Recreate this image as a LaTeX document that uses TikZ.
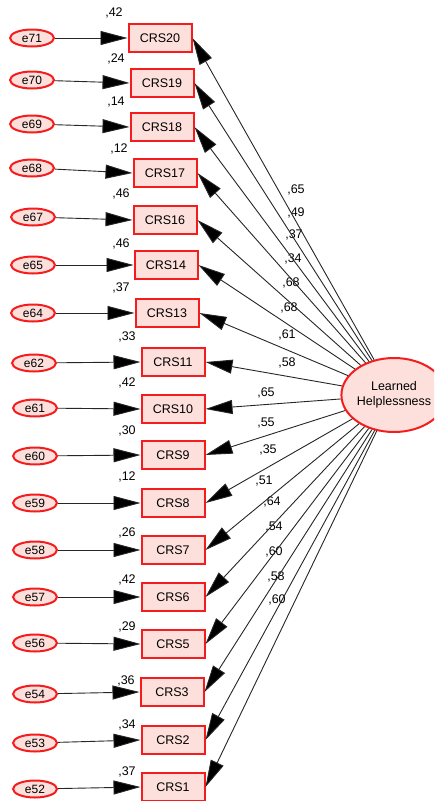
\documentclass[tikz,border=0pt]{standalone}
\usepackage{fontspec}
\setmainfont{Liberation Sans}
\usetikzlibrary{arrows.meta,shapes.geometric}
\definecolor{amosfill}{HTML}{FDE0DC}
\definecolor{amosred}{HTML}{F41C1C}

\begin{document}
\begin{tikzpicture}[x=1pt,y=-1pt,
    err/.style={ellipse,draw=amosred,fill=amosfill,line width=2pt,minimum width=44pt,minimum height=17pt,inner sep=0pt,font=\fontsize{12}{13}\selectfont},
    obs/.style={rectangle,draw=amosred,fill=amosfill,line width=2pt,minimum width=63pt,minimum height=28pt,inner sep=0pt,font=\fontsize{12.5}{13}\selectfont},
    lat/.style={ellipse,draw=amosred,fill=amosfill,line width=2pt,minimum width=96pt,minimum height=74pt,inner sep=0pt,align=center,font=\fontsize{12.5}{14.5}\selectfont},
    lbl/.style={inner sep=0pt,font=\fontsize{12.5}{13}\selectfont},
    arr/.style={-{Triangle[length=27pt,width=14pt]},draw=black!85,line width=0.9pt}]
        \useasboundingbox (0,0) rectangle (434,801);
        \clip (0,0) rectangle (434,801);

        % latent factor
        \node[lat] at (394,395) (lh){Learned\\Helplessness};

        % items
        \node[obs] at (160,38) (c20){CRS20};
        \node[obs] at (162,83) (c19){CRS19};
        \node[obs] at (162,127) (c18){CRS18};
        \node[obs] at (165,173) (c17){CRS17};
        \node[obs] at (165,220) (c16){CRS16};
        \node[obs] at (166,265) (c14){CRS14};
        \node[obs] at (167,313) (c13){CRS13};
        \node[obs] at (173,362) (c11){CRS11};
        \node[obs] at (173,409) (c10){CRS10};
        \node[obs] at (173,455) (c9){CRS9};
        \node[obs] at (173,503) (c8){CRS8};
        \node[obs] at (173,550) (c7){CRS7};
        \node[obs] at (173,597) (c6){CRS6};
        \node[obs] at (173,644) (c5){CRS5};
        \node[obs] at (172,692) (c3){CRS3};
        \node[obs] at (173,740) (c2){CRS2};
        \node[obs] at (173,787) (c1){CRS1};

        % error terms
        \node[err] at (32,38) (e71){e71};
        \node[err] at (32,80) (e70){e70};
        \node[err] at (32,124) (e69){e69};
        \node[err] at (32,168) (e68){e68};
        \node[err] at (33,217) (e67){e67};
        \node[err] at (33,265) (e65){e65};
        \node[err] at (33,313) (e64){e64};
        \node[err] at (34,363) (e62){e62};
        \node[err] at (35,408) (e61){e61};
        \node[err] at (35,456) (e60){e60};
        \node[err] at (35,503) (e59){e59};
        \node[err] at (35,550) (e58){e58};
        \node[err] at (35,597) (e57){e57};
        \node[err] at (35,643) (e56){e56};
        \node[err] at (35,694) (e54){e54};
        \node[err] at (35,743) (e53){e53};
        \node[err] at (35,789) (e52){e52};

        % squared multiple correlations
        \node[lbl] at (114,13) (s20){,42};
        \node[lbl] at (116,59) (s19){,24};
        \node[lbl] at (116,102) (s18){,14};
        \node[lbl] at (119,149) (s17){,12};
        \node[lbl] at (121,194) (s16){,46};
        \node[lbl] at (121,244) (s14){,46};
        \node[lbl] at (121,288) (s13){,37};
        \node[lbl] at (127,337) (s11){,33};
        \node[lbl] at (127,383) (s10){,42};
        \node[lbl] at (127,431) (s9){,30};
        \node[lbl] at (127,477) (s8){,12};
        \node[lbl] at (127,533) (s7){,26};
        \node[lbl] at (127,580) (s6){,42};
        \node[lbl] at (127,627) (s5){,29};
        \node[lbl] at (126,681) (s3){,36};
        \node[lbl] at (127,725) (s2){,34};
        \node[lbl] at (127,772) (s1){,37};

        % loadings
        \node[lbl] at (296,190) (l20){,65};
        \node[lbl] at (296,213) (l19){,49};
        \node[lbl] at (294,235) (l18){,37};
        \node[lbl] at (293,259) (l17){,34};
        \node[lbl] at (291,283) (l16){,68};
        \node[lbl] at (289,308) (l14){,68};
        \node[lbl] at (287,335) (l13){,61};
        \node[lbl] at (287,363) (l11){,58};
        \node[lbl] at (266,393) (l10){,65};
        \node[lbl] at (266,423) (l9){,55};
        \node[lbl] at (268,450) (l8){,35};
        \node[lbl] at (264,481) (l7){,51};
        \node[lbl] at (272,502) (l6){,64};
        \node[lbl] at (274,527) (l5){,54};
        \node[lbl] at (274,552) (l3){,60};
        \node[lbl] at (276,577) (l2){,58};
        \node[lbl] at (277,600) (l1){,60};

        \draw[arr]
        (e71) edge (c20.west)
        (e70) edge (c19.west)
        (e69) edge (c18.west)
        (e68) edge (c17.west)
        (e67) edge (c16.west)
        (e65) edge (c14.west)
        (e64) edge (c13.west)
        (e62) edge (c11.west)
        (e61) edge (c10.west)
        (e60) edge (c9.west)
        (e59) edge (c8.west)
        (e58) edge (c7.west)
        (e57) edge (c6.west)
        (e56) edge (c5.west)
        (e54) edge (c3.west)
        (e53) edge (c2.west)
        (e52) edge (c1.west);

        \draw[arr]
        (lh) edge (c20.east)
        (lh) edge (c19.east)
        (lh) edge (c18.east)
        (lh) edge (c17.east)
        (lh) edge (c16.east)
        (lh) edge (c14.east)
        (lh) edge (c13.east)
        (lh) edge (c11.east)
        (lh) edge (c10.east)
        (lh) edge (c9.east)
        (lh) edge (c8.east)
        (lh) edge (c7.east)
        (lh) edge (c6.east)
        (lh) edge (c5.east)
        (lh) edge (c3.east)
        (lh) edge (c2.east)
        (lh) edge (c1.east);
    \end{tikzpicture}
\end{document}
